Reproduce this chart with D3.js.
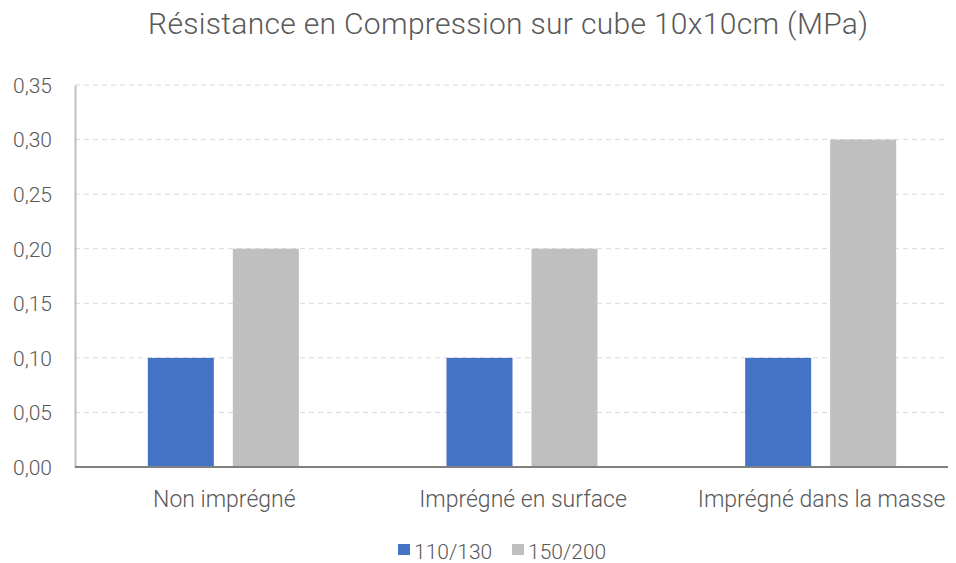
<!DOCTYPE html>
<html>
<head>
<meta charset="utf-8">
<script src="https://cdn.jsdelivr.net/npm/d3@7"></script>
<style>
  body { margin: 0; background: #fff; }
  text { font-family: Roboto, "Noto Sans", sans-serif; fill: #595959; font-weight: 300; }
</style>
</head>
<body>
<div id="chart"></div>
<script>
// data
const categories = ["Non imprégné", "Imprégné en surface", "Imprégné dans la masse"];
const series = ["110/130", "150/200"];
const values110 = [0.10, 0.10, 0.10];
const values150 = [0.20, 0.20, 0.30];
const yTicks = [0, 0.05, 0.10, 0.15, 0.20, 0.25, 0.30, 0.35];
const colors = ["#4472C4", "#BFBFBF"];

const w = 956, h = 563;
const margin = {top: 85, left: 75, right: 8, bottom: 96};
const plotRight = w - margin.right;
const plotBottom = h - margin.bottom;

const svg = d3.select("#chart").append("svg")
    .attr("width", w)
    .attr("height", h);

// title
svg.append("text")
    .attr("x", 508)
    .attr("y", 34)
    .attr("text-anchor", "middle")
    .style("font-size", "30px")
    .attr("textLength", 720)
    .text("Résistance en Compression sur cube 10x10cm (MPa)");

// scales
let y = d3.scaleLinear()
    .domain([0, 0.35])
    .range([plotBottom, margin.top]);

let x0 = d3.scaleBand()
    .domain(categories)
    .range([margin.left - 1, margin.left + 895]);

let x1 = d3.scaleBand()
    .domain(series)
    .range([-75.5, 75.5])
    .paddingInner(0.2235);

// grid lines
svg.append("g").selectAll("line")
    .data(yTicks.filter(d => d > 0))
    .enter()
    .append("line")
    .attr("x1", margin.left).attr("x2", plotRight)
    .attr("y1", d => y(d)).attr("y2", d => y(d))
    .style("stroke", "#d9d9d9")
    .style("stroke-dasharray", "5,4");

// y axis
const yAxis = svg.append("g")
    .attr("transform", `translate(${margin.left},0)`)
    .call(d3.axisLeft(y).tickValues(yTicks).tickSize(0).tickPadding(23)
        .tickFormat(d => d3.format(".2f")(d).replace(".", ",")));
yAxis.select(".domain").attr("stroke", "#bfbfbf").attr("stroke-width", 2);
yAxis.selectAll("text").style("font-size", "21px").attr("dy", "0.35em");

// bars
const rows = categories.map((c, i) => ({cat: c, vals: [values110[i], values150[i]]}));
const groups = svg.append("g").selectAll("g")
    .data(rows)
    .enter().append("g")
    .attr("transform", d => `translate(${x0(d.cat) + x0.bandwidth() / 2},0)`);

groups.selectAll("rect")
    .data(d => d.vals.map((v, j) => ({s: series[j], v: v, j: j})))
    .enter().append("rect")
    .attr("x", d => x1(d.s))
    .attr("width", x1.bandwidth())
    .attr("y", d => y(d.v))
    .attr("height", d => y(0) - y(d.v))
    .attr("fill", d => colors[d.j]);

// x axis
const xAxis = svg.append("g")
    .attr("transform", `translate(0,${plotBottom})`);
xAxis.append("line")
    .attr("x1", margin.left).attr("x2", plotRight)
    .attr("y1", 0).attr("y2", 0)
    .style("stroke", "#808080")
    .style("stroke-width", 2);
xAxis.selectAll("text")
    .data(categories)
    .enter().append("text")
    .attr("x", d => x0(d) + x0.bandwidth() / 2 + 1)
    .attr("y", 40)
    .attr("text-anchor", "middle")
    .style("font-size", "23px")
    .text(d => d);

// legend
const legend = svg.append("g").attr("transform", "translate(398,544)");
const legendX = [0, 114];
series.forEach((s, i) => {
    legend.append("rect")
        .attr("x", legendX[i]).attr("y", 0)
        .attr("width", 12).attr("height", 11)
        .attr("fill", colors[i]);
    legend.append("text")
        .attr("x", legendX[i] + 16).attr("y", 15)
        .style("font-size", "21px")
        .text(s);
});
</script>
</body>
</html>
